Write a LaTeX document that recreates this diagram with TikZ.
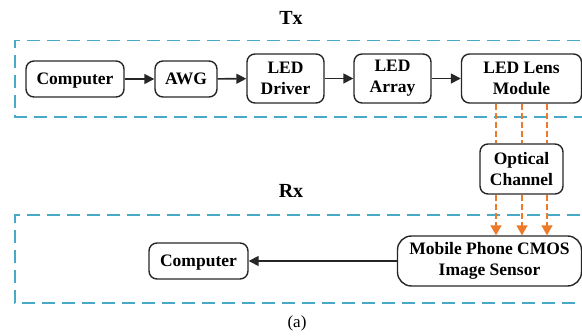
\documentclass[tikz,border=0pt]{standalone}
\usepackage{fontspec}
\setmainfont{Liberation Serif}
\usetikzlibrary{arrows.meta}
\definecolor{boxblue}{RGB}{72,170,198}
\definecolor{optorange}{RGB}{236,122,40}
\begin{document}
\begin{tikzpicture}[x=1pt,y=-1pt,
  blk/.style={draw=black!85, line width=1.4pt, rounded corners=8pt, align=center,
    font=\fontsize{17.5}{21}\selectfont\bfseries, inner sep=0pt},
  single/.style={text height=11.6pt, text depth=0pt},
  frame/.style={draw=boxblue, line width=1.6pt, dash pattern=on 13pt off 7pt},
  flow/.style={draw=black!85, line width=1.6pt, -{Triangle[length=10pt,width=10pt]}},
  opt/.style={draw=optorange, line width=1.6pt, dash pattern=on 6pt off 3pt},
  optarr/.style={opt, -{Triangle[length=10pt,width=11pt]}},
  lbl/.style={font=\fontsize{20}{22}\selectfont\bfseries}]
\useasboundingbox (0,0) rectangle (582,336);
% frames
\draw[frame] (600,40.5) -- (15,40.5) -- (15,117) -- (600,117);
\draw[frame] (600,215) -- (15,215) -- (15,303) -- (600,303);
\node[lbl] (tx) at (291,18) {Tx};
\node[lbl] (rx) at (291,191) {Rx};
% Tx nodes
\node[blk, single, minimum width=98pt, minimum height=36pt] (comp1) at (75,79) {Computer};
\node[blk, single, minimum width=62pt, minimum height=36pt] (awg) at (186,79) {AWG};
\node[blk, minimum width=77pt, minimum height=49pt] (drv) at (285.5,78.5) {LED\\Driver};
\node[blk, minimum width=77pt, minimum height=49pt] (arr) at (392.5,78.5) {LED\\Array};
\node[blk, minimum width=120pt, minimum height=49pt] (lens) at (521.5,78.5) {LED Lens\\Module};
\node[blk, minimum width=83pt, minimum height=50pt] (ch) at (521.5,169) {Optical\\Channel};
\node[blk, minimum width=184pt, minimum height=50pt, rounded corners=14pt] (cmos) at (489.5,261) {Mobile Phone CMOS\\Image Sensor};
\node[blk, single, minimum width=99pt, minimum height=36pt] (comp2) at (198.5,261) {Computer};
\node[font=\fontsize{17}{19}\selectfont] (cap) at (297,323.5) {(a)};
% flow arrows
\draw[flow] (comp1) -- (awg);
\draw[flow] (awg) -- (drv);
\draw[flow] (drv) -- (arr);
\draw[flow] (arr) -- (lens);
\draw[flow] (cmos) -- (comp2);
% optical
\foreach \xx in {496,522,547}{
  \draw[opt] (lens.south -| \xx,0) -- (ch.north -| \xx,0);
  \draw[optarr] (ch.south -| \xx,0) -- (cmos.north -| \xx,0);
}
\end{tikzpicture}
\end{document}
